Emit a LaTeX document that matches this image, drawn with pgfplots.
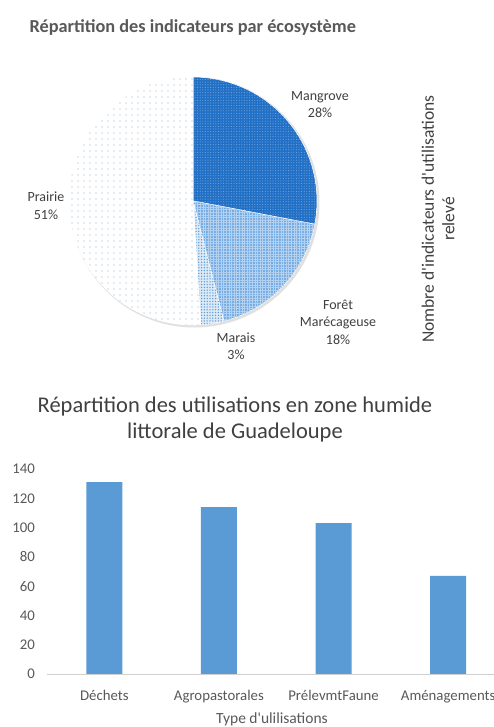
\documentclass[border=0pt]{standalone}
\usepackage{pgfplots}
\pgfplotsset{compat=1.18}
\usepackage{fontspec}
\setmainfont{Carlito}[Ligatures=TeXOff]
\usetikzlibrary{patterns.meta}
\definecolor{barblue}{HTML}{5B9BD5}
\definecolor{txtgrey}{HTML}{595959}
\definecolor{txtdark}{HTML}{404040}
\definecolor{mangbase}{HTML}{2270C6}
\definecolor{mangdot}{HTML}{70A6DF}
\definecolor{foretbase}{HTML}{78ADE4}
\definecolor{foretgrid}{HTML}{B3D1F0}
\definecolor{maraisbase}{HTML}{DCE9F6}
\definecolor{maraisdot}{HTML}{5B9BD5}
\definecolor{prairiedot}{HTML}{8FAECB}
\begin{document}
\begin{tikzpicture}[x=1pt,y=1pt]
\useasboundingbox (0,0) rectangle (494,727);
\fill[white] (0,0) rectangle (494,727);

% ---------- Pie chart ----------
\node[anchor=west, text=txtgrey, font=\fontsize{18.3}{21}\selectfont\bfseries] at (26,699) {Répartition des indicateurs par écosystème};

\begin{axis}[hide axis, at={(193pt,526pt)}, anchor=center, scale only axis,
  width=248pt, height=248pt, xmin=-1, xmax=1, ymin=-1, ymax=1, clip=false]
  % shadow
  \fill[black!12] (axis cs:0.012,-0.012) circle[radius=125pt];
  % Mangrove 28%
  \path[fill=mangbase, postaction={pattern={Dots[distance=2.6pt, radius=0.55pt]}, pattern color=mangdot}, draw=white, line width=0.6pt]
    (axis cs:0,0) -- +(90:124pt) arc[start angle=90, end angle={90-28*3.6}, radius=124pt] -- cycle;
  % Foret Marecageuse 18%
  \path[fill=foretbase, postaction={pattern={Lines[distance=2.6pt, line width=0.5pt]}, pattern color=foretgrid}, postaction={pattern={Lines[distance=2.6pt, angle=90, line width=0.5pt]}, pattern color=foretgrid}, draw=white, line width=0.6pt]
    (axis cs:0,0) -- +({90-28*3.6}:124pt) arc[start angle={90-28*3.6}, end angle={90-46*3.6}, radius=124pt] -- cycle;
  % Marais 3%
  \path[fill=maraisbase, postaction={pattern={Dots[distance=2.8pt, radius=0.75pt]}, pattern color=maraisdot}, draw=white, line width=0.6pt]
    (axis cs:0,0) -- +({90-46*3.6}:124pt) arc[start angle={90-46*3.6}, end angle={90-49*3.6}, radius=124pt] -- cycle;
  % Prairie 51%
  \path[fill=white, postaction={pattern={Dots[distance=6pt, radius=0.6pt]}, pattern color=prairiedot}, draw=white, line width=0.6pt]
    (axis cs:0,0) -- +({90-49*3.6}:124pt) arc[start angle={90-49*3.6}, end angle={90-100*3.6}, radius=124pt] -- cycle;
\end{axis}

\begin{scope}[every node/.style={align=center, text=txtdark, font=\fontsize{14}{17.5}\selectfont}]
\node at (320,622.5) {Mangrove\\28\%};
\node at (338,405) {Forêt\\Marécageuse\\18\%};
\node at (236,381) {Marais\\3\%};
\node at (46,521) {Prairie\\51\%};
\end{scope}

\node[rotate=90, align=center, text=txtdark, font=\fontsize{17.5}{20.5}\selectfont] at (438,508) {Nombre d'indicateurs d'utilisations\\relevé};

% ---------- Bar chart ----------
\node[align=center, text=txtdark, font=\fontsize{22.5}{26}\selectfont] at (235,307) {Répartition des utilisations en zone humide\\littorale de Guadeloupe};

\begin{axis}[at={(47pt,53pt)}, anchor=south west, scale only axis,
  width=447pt, height=205pt,
  xmin=-0.5, xmax=3.4, ymin=0, ymax=140,
  ytick={0,20,...,140}, xtick={0,1,2,3},
  xticklabels={Déchets,Agropastorales,PrélevmtFaune,Aménagements},
  axis x line=bottom, axis y line=left,
  axis line style={-},
  x axis line style={draw=black!18, line width=0.8pt},
  y axis line style={draw=none},
  major tick length=0pt,
  tick label style={text=txtgrey, font=\fontsize{14.8}{17}\selectfont},
  yticklabel style={xshift=-8.5pt},
  xticklabel style={yshift=-13pt},
  /pgf/number format/assume math mode=true,
  clip=false]
  \addplot[ybar, fill=barblue, draw=none, bar width=36pt] coordinates {(0,131) (1,114) (2,103) (3,67)};
\end{axis}

\node[text=txtgrey, font=\fontsize{15.5}{18}\selectfont] at (272,8) {Type d'ulilisations};
\end{tikzpicture}
\end{document}
